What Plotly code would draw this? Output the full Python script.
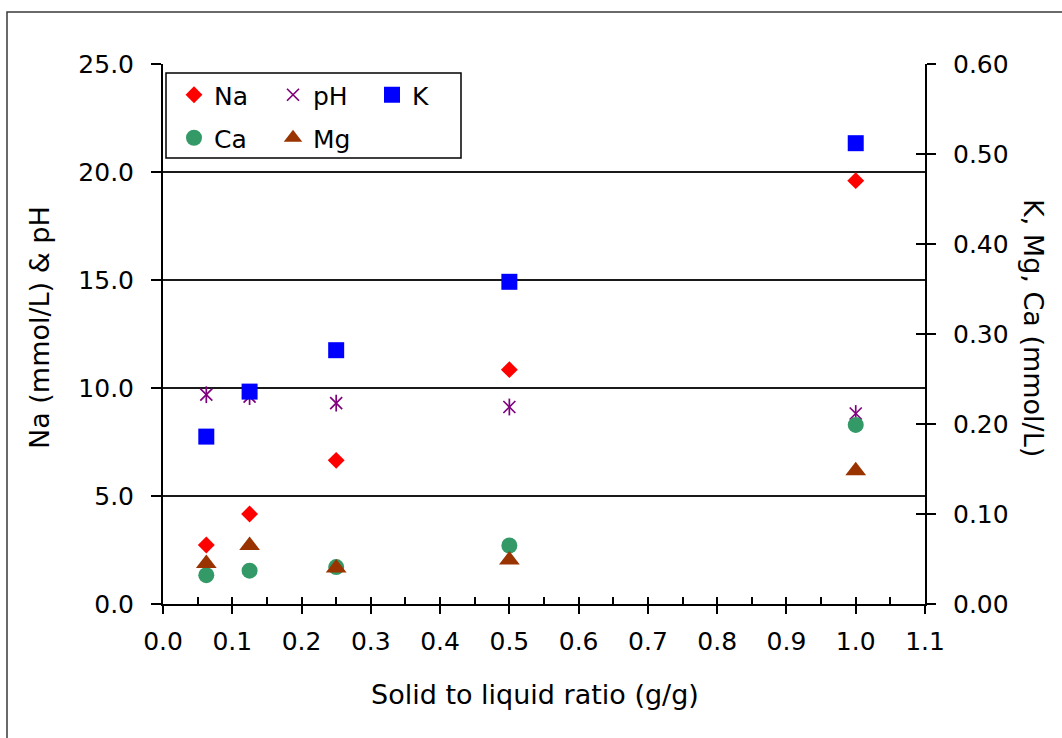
import plotly.graph_objects as go

# ---- data ----
ratio = [0.0625, 0.125, 0.25, 0.5, 1.0]          # solid to liquid ratio (g/g)
na = [2.73, 4.17, 6.65, 10.85, 19.6]              # mmol/L (left axis)
ph = [9.69, 9.60, 9.30, 9.12, 8.82]               # pH (left axis)
k = [0.186, 0.236, 0.282, 0.358, 0.512]           # mmol/L (right axis)
ca = [0.032, 0.037, 0.041, 0.065, 0.199]          # mmol/L (right axis)
mg = [0.045, 0.065, 0.040, 0.049, 0.148]          # mmol/L (right axis)

x_ticks = [0.0, 0.1, 0.2, 0.3, 0.4, 0.5, 0.6, 0.7, 0.8, 0.9, 1.0, 1.1]
left_ticks = [0, 5, 10, 15, 20, 25]
right_ticks = [0.0, 0.1, 0.2, 0.3, 0.4, 0.5, 0.6]

FONT = "DejaVu Sans"
FS = 25      # tick labels / legend
FT = 27      # axis titles

# plot-area pixel geometry
W, H = 1062, 738
L, R, T, B = 163, 925, 64, 604
PW, PH = R - L, B - T


def px(xp):
    return (xp - L) / PW


def py(yp):
    return (B - yp) / PH


fig = go.Figure()

# pH star drawn as an X plus a vertical bar (Excel star marker)
fig.add_trace(go.Scatter(
    x=ratio, y=ph, mode="markers", name="pH", legend="legend", legendrank=2,
    marker=dict(symbol="x-thin-open", size=12, color="#800080",
                line=dict(width=1.7, color="#800080")),
))
fig.add_trace(go.Scatter(
    x=ratio, y=ph, mode="markers", name="pH", showlegend=False,
    marker=dict(symbol="line-ns-open", size=12, color="#800080",
                line=dict(width=1.7, color="#800080")),
    hoverinfo="skip",
))
fig.add_trace(go.Scatter(
    x=ratio, y=na, mode="markers", name="Na", legend="legend", legendrank=1,
    marker=dict(symbol="diamond", size=13, color="#FF0000", line=dict(width=0)),
))
fig.add_trace(go.Scatter(
    x=ratio, y=k, mode="markers", name="K", yaxis="y2", legend="legend", legendrank=3,
    marker=dict(symbol="square", size=16, color="#0000FF", line=dict(width=0)),
))
fig.add_trace(go.Scatter(
    x=ratio, y=ca, mode="markers", name="Ca", yaxis="y2", legend="legend2", legendrank=1,
    marker=dict(symbol="circle", size=16, color="#339966", line=dict(width=0)),
))
fig.add_trace(go.Scatter(
    x=ratio, y=mg, mode="markers", name="Mg", yaxis="y2", legend="legend2", legendrank=2,
    marker=dict(symbol="triangle-up", size=18, color="#993300", line=dict(width=0)),
))
# empty helper traces so the overlay tick axes are drawn
fig.add_trace(go.Scatter(x=[None], y=[None], xaxis="x2", yaxis="y",
                         showlegend=False, hoverinfo="skip"))
fig.add_trace(go.Scatter(x=[None], y=[None], xaxis="x", yaxis="y3",
                         showlegend=False, hoverinfo="skip"))

tickfont = dict(family=FONT, size=FS, color="black")
titlefont = dict(family=FONT, size=FT, color="black")

fig.update_layout(
    width=W, height=H,
    margin=dict(l=L, r=W - R, t=T, b=H - B),
    paper_bgcolor="white", plot_bgcolor="white",
    font=dict(family=FONT, size=FS, color="black"),
    xaxis=dict(
        range=[0, 1.1], tickvals=x_ticks, tickformat=".1f",
        ticks="outside", ticklen=8, tickwidth=1.5, tickcolor="black",
        showline=True, linewidth=2, linecolor="black",
        showgrid=False, zeroline=False, tickfont=tickfont,
        ticklabelstandoff=6,
    ),
    xaxis2=dict(
        overlaying="x", anchor="y", side="bottom", range=[0, 1.1],
        tick0=0, dtick=0.05, ticks="inside", ticklen=7, tickwidth=1.5,
        tickcolor="black", showticklabels=False, showline=False,
        showgrid=False, zeroline=False,
    ),
    yaxis=dict(
        range=[0, 25], tickvals=left_ticks, tickformat=".1f",
        ticks="outside", ticklen=10, tickwidth=1.5, tickcolor="black",
        showline=True, linewidth=2, linecolor="black",
        showgrid=True, gridcolor="#1a1a1a", gridwidth=1.5,
        zeroline=False, tickfont=tickfont, ticklabelstandoff=12,
    ),
    yaxis2=dict(
        overlaying="y", side="right", anchor="x", range=[0, 0.6],
        tickvals=right_ticks, tickformat=".2f",
        ticks="outside", ticklen=9, tickwidth=1.5, tickcolor="black",
        showline=True, linewidth=2, linecolor="black",
        showgrid=False, zeroline=False, tickfont=tickfont,
        ticklabelstandoff=12,
    ),
    yaxis3=dict(
        overlaying="y", side="right", anchor="x", range=[0, 0.6],
        tickvals=right_ticks, ticks="inside", ticklen=9, tickwidth=1.5,
        tickcolor="black", showticklabels=False, showline=False,
        showgrid=False, zeroline=False,
    ),
    legend=dict(
        orientation="h", x=px(174), y=py(72), xanchor="left", yanchor="top",
        entrywidth=54, entrywidthmode="pixels", bgcolor="rgba(0,0,0,0)",
        borderwidth=0, font=dict(family=FONT, size=FS, color="black"),
        traceorder="normal",
    ),
    legend2=dict(
        orientation="h", x=px(174), y=py(115), xanchor="left", yanchor="top",
        entrywidth=54, entrywidthmode="pixels", bgcolor="rgba(0,0,0,0)",
        borderwidth=0, font=dict(family=FONT, size=FS, color="black"),
        traceorder="normal",
    ),
    showlegend=True,
    shapes=[
        # outer chart frame
        dict(type="rect", xref="paper", yref="paper",
             x0=px(7), x1=px(1100), y0=py(12), y1=py(800),
             line=dict(color="#3a3a3a", width=1.5), fillcolor="rgba(0,0,0,0)",
             layer="below"),
        # legend box
        dict(type="rect", xref="paper", yref="paper",
             x0=px(166), x1=px(461), y0=py(158), y1=py(73),
             line=dict(color="black", width=1.5), fillcolor="white",
             layer="above"),
    ],
    annotations=[
        dict(text="Solid to liquid ratio (g/g)", xref="paper", yref="paper",
             x=px(535), y=py(694), xanchor="center", yanchor="middle",
             showarrow=False, font=titlefont),
        dict(text="Na (mmol/L) & pH", xref="paper", yref="paper",
             x=px(39), y=py(328), xanchor="center", yanchor="middle",
             textangle=-90, showarrow=False, font=titlefont),
        dict(text="K, Mg, Ca (mmol/L)", xref="paper", yref="paper",
             x=px(1034), y=py(328), xanchor="center", yanchor="middle",
             textangle=90, showarrow=False, font=titlefont),
    ],
)

fig.write_html("out.html")
